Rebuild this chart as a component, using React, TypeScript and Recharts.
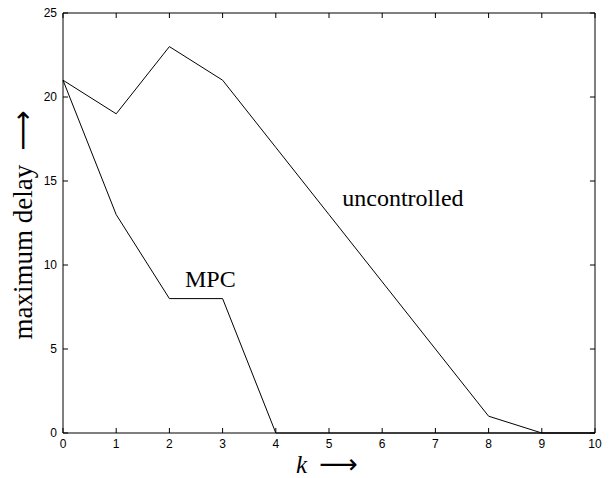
import { Label, Line, LineChart, ReferenceDot, ReferenceLine, XAxis, YAxis } from "recharts";

const kValues = [0, 1, 2, 3, 4, 5, 6, 7, 8, 9, 10];
const uncontrolled = [21, 19, 23, 21, 17, 13, 9, 5, 1, 0, 0];
const mpc = [21, 13, 8, 8, 0, 0, 0, 0, 0, 0, 0];
const xTicks = [0, 1, 2, 3, 4, 5, 6, 7, 8, 9, 10];
const yTicks = [0, 5, 10, 15, 20, 25];

const data = kValues.map((k, i) => ({ k, uncontrolled: uncontrolled[i], mpc: mpc[i] }));

const X_MAX = 10;
const Y_MAX = 25;
// inward tick length in data units (~5px)
const xTickLen = 0.3;
const yTickLen = 0.095;

const tickFont = { fontFamily: "Liberation Sans, Arial, sans-serif", fontSize: 12, fill: "#000" };
const serif = "Liberation Serif, Times New Roman, serif";

const XLabel = ({ viewBox }: any) => {
  const cx = viewBox.x + viewBox.width / 2 - 2;
  const y = viewBox.y + 40;
  return (
    <text x={cx} y={y} textAnchor="middle" fontFamily={serif} fontSize={25} fill="#000">
      <tspan fontStyle="italic">k</tspan>
      <tspan dx={12} fontFamily="DejaVu Sans, sans-serif" fontSize={27}>⟶</tspan>
    </text>
  );
};

const YLabel = ({ viewBox }: any) => {
  const cx = 32;
  const cy = viewBox.y + viewBox.height / 2 + 2;
  return (
    <text
      x={cx}
      y={cy}
      textAnchor="middle"
      transform={`rotate(-90, ${cx}, ${cy})`}
      fontFamily={serif}
      fontSize={27}
      fill="#000"
    >
      maximum delay
      <tspan dx={14} fontFamily="DejaVu Sans, sans-serif" fontSize={28}>⟶</tspan>
    </text>
  );
};

export default function App() {
  return (
    <div style={{ position: "fixed", left: 0, top: 0, background: "#fff" }}>
      <LineChart width={613} height={478} data={data} margin={{ top: 13, right: 18, left: 13, bottom: 15 }}>
        <XAxis
          dataKey="k"
          type="number"
          domain={[0, X_MAX]}
          ticks={xTicks}
          interval={0}
          height={30}
          stroke="#000"
          tickLine={false}
          tickMargin={0}
          tick={tickFont}
        >
          <Label content={<XLabel />} />
        </XAxis>
        <YAxis
          type="number"
          domain={[0, Y_MAX]}
          ticks={yTicks}
          interval={0}
          width={50}
          stroke="#000"
          tickLine={false}
          tickMargin={0}
          tick={tickFont}
        >
          <Label content={<YLabel />} />
        </YAxis>
        {/* box frame */}
        <ReferenceLine y={Y_MAX} stroke="#000" ifOverflow="visible" />
        <ReferenceLine x={X_MAX} stroke="#000" ifOverflow="visible" />
        {/* inward ticks on bottom and top */}
        {xTicks.map((t) => (
          <ReferenceLine key={`xb${t}`} segment={[{ x: t, y: 0 }, { x: t, y: xTickLen }]} stroke="#000" />
        ))}
        {xTicks.map((t) => (
          <ReferenceLine key={`xt${t}`} segment={[{ x: t, y: Y_MAX }, { x: t, y: Y_MAX - xTickLen }]} stroke="#000" />
        ))}
        {/* inward ticks on left and right */}
        {yTicks.map((t) => (
          <ReferenceLine key={`yl${t}`} segment={[{ x: 0, y: t }, { x: yTickLen, y: t }]} stroke="#000" />
        ))}
        {yTicks.map((t) => (
          <ReferenceLine key={`yr${t}`} segment={[{ x: X_MAX, y: t }, { x: X_MAX - yTickLen, y: t }]} stroke="#000" />
        ))}
        <Line type="linear" dataKey="uncontrolled" stroke="#000" strokeWidth={1} dot={false} isAnimationActive={false} />
        <Line type="linear" dataKey="mpc" stroke="#000" strokeWidth={1} dot={false} isAnimationActive={false} />
        <ReferenceDot x={6.39} y={14.0} r={0} stroke="none" fill="none">
          <Label value="uncontrolled" position="center" fontFamily={serif} fontSize={24} fill="#000" />
        </ReferenceDot>
        <ReferenceDot x={2.77} y={9.2} r={0} stroke="none" fill="none">
          <Label value="MPC" position="center" fontFamily={serif} fontSize={24} fill="#000" />
        </ReferenceDot>
      </LineChart>
    </div>
  );
}
